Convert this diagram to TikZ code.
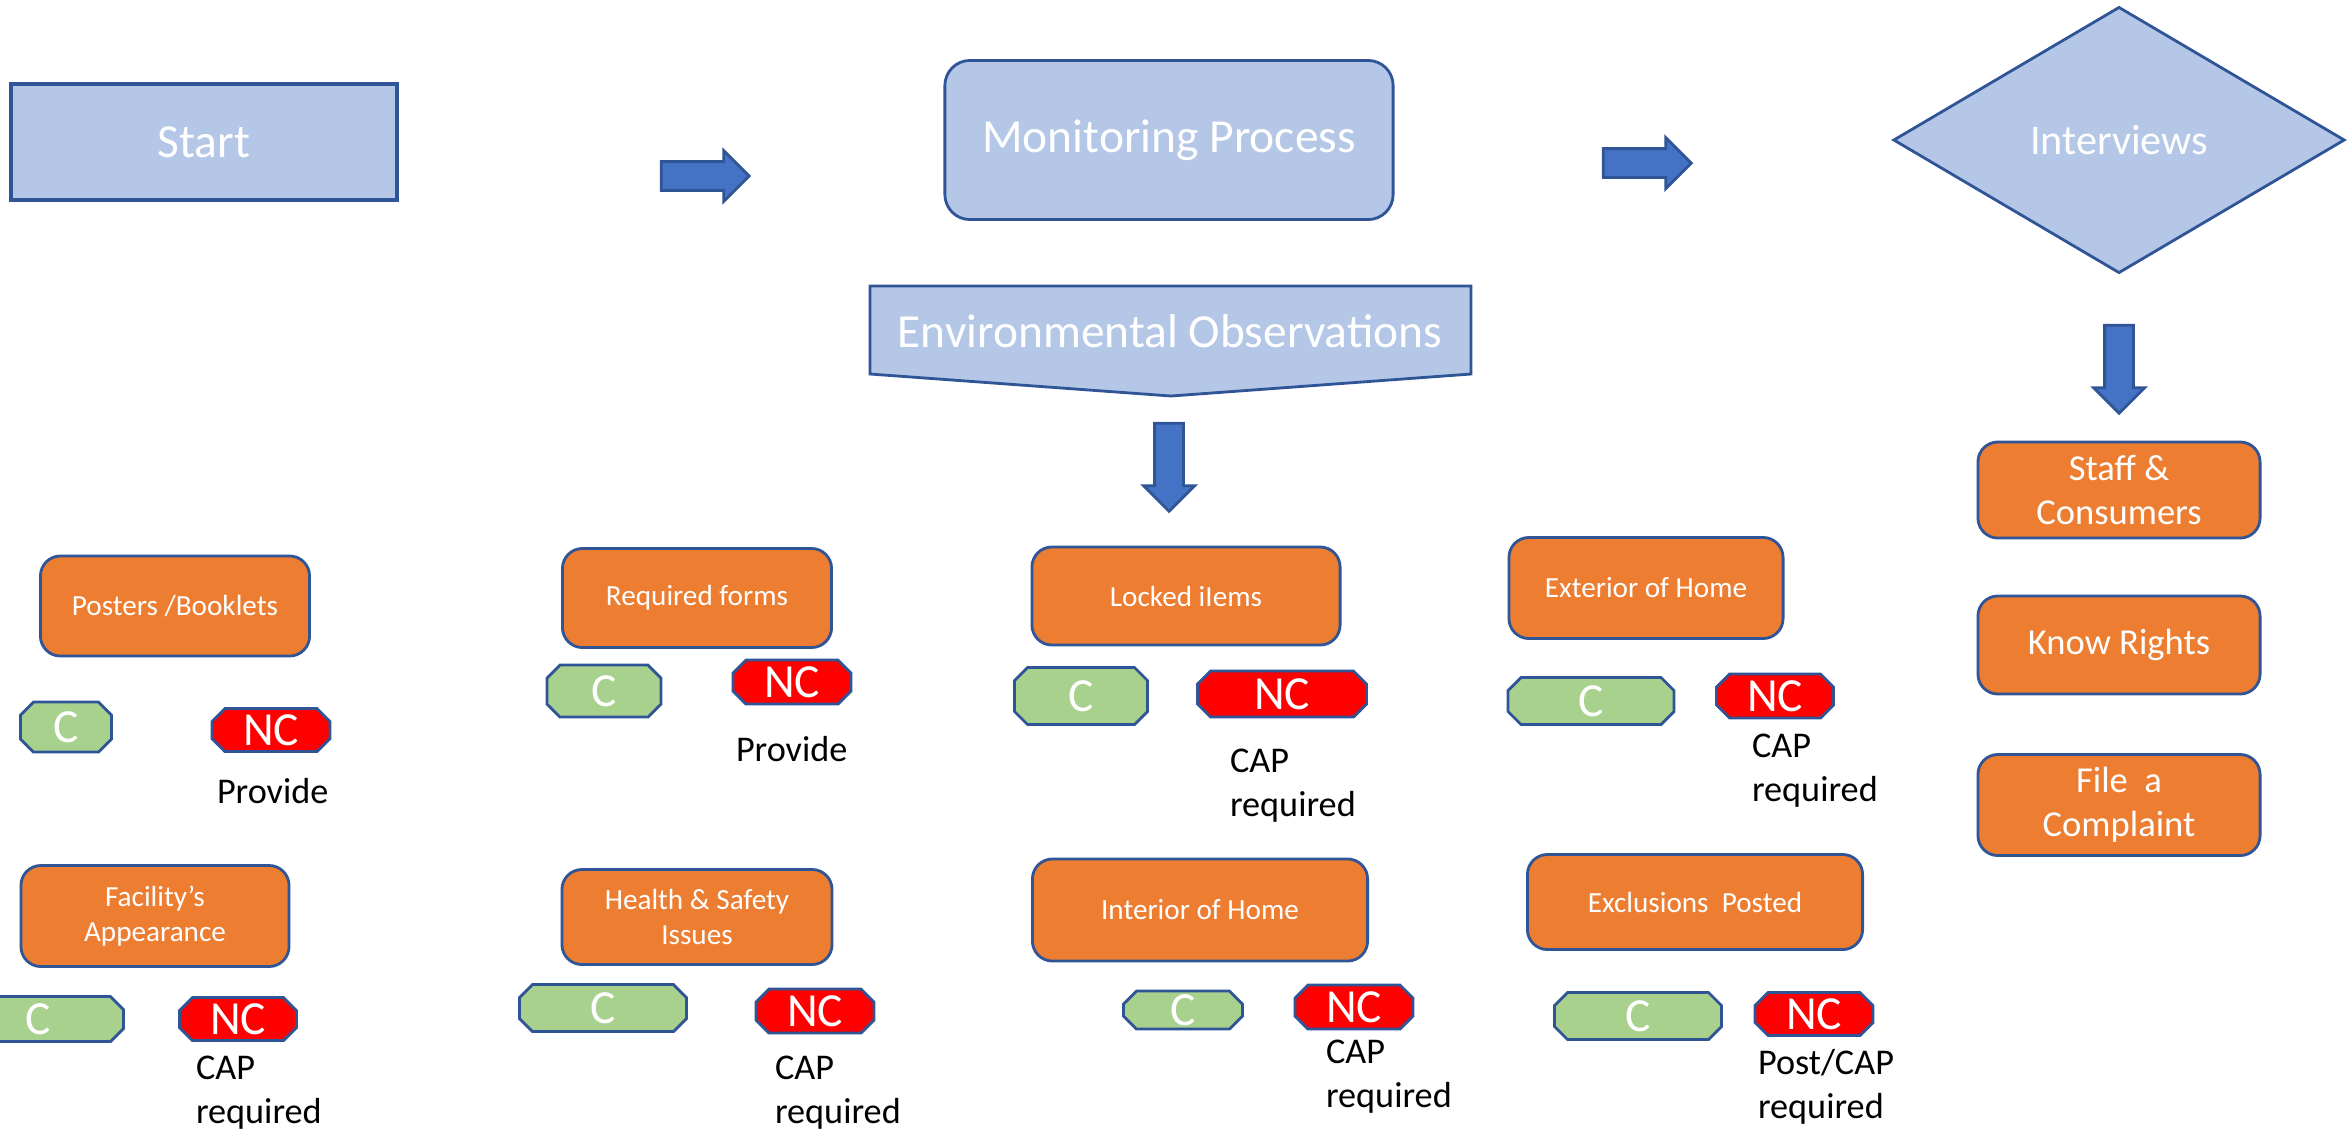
\documentclass[tikz,border=0pt]{standalone}
\usepackage{fontspec}
\setmainfont{Carlito}
\usetikzlibrary{shapes.geometric}
\usetikzlibrary{shapes.arrows}
\definecolor{BoxBlue}{HTML}{B4C7E7}
\definecolor{EdgeBlue}{HTML}{2F5597}
\definecolor{ArrowBlue}{HTML}{4472C4}
\definecolor{BoxOrange}{HTML}{ED7D31}
\definecolor{OkGreen}{HTML}{A9D18E}
\definecolor{NcRed}{HTML}{FF0000}
% name, x, y, width, height, colour, text
\newcommand{\markbox}[7]{%
  \filldraw[fill=#6, draw=EdgeBlue, line width=0.8pt]
    (#2-#4/2+13,#3-#5/2) -- (#2+#4/2-13,#3-#5/2) -- (#2+#4/2,#3-#5/2+13)
    -- (#2+#4/2,#3+#5/2-13) -- (#2+#4/2-13,#3+#5/2) -- (#2-#4/2+13,#3+#5/2)
    -- (#2-#4/2,#3+#5/2-13) -- (#2-#4/2,#3-#5/2+13) -- cycle;
  \node[marktext] (#1) at (#2,#3) {#7};}

\begin{document}
\begin{tikzpicture}[x=0.01cm, y=-0.01cm,
    every node/.style={inner sep=0pt, outer sep=0pt},
    bluebox/.style={draw=EdgeBlue, fill=BoxBlue, line width=0.8pt, text=white, font=\fontsize{13.5}{16}\selectfont},
    itembox/.style={draw=EdgeBlue, fill=BoxOrange, line width=0.8pt, rounded corners=0.2cm, text=white, align=center, font=\fontsize{8.3}{10}\selectfont},
    askbox/.style={itembox, minimum width=2.82cm, font=\fontsize{10.4}{12.5}\selectfont},
    marktext/.style={text=white, font=\fontsize{13.5}{15}\selectfont},
    note/.style={anchor=base west, align=left, font=\fontsize{10.3}{12.3}\selectfont},
    blockarrow/.style={single arrow, draw=EdgeBlue, fill=ArrowBlue, line width=0.8pt, minimum height=0.88cm, minimum width=0.5cm, inner sep=0.13cm, single arrow head extend=0.11cm}]
  \useasboundingbox (0,0) rectangle (2351,1132);
  \clip (0,0) rectangle (2351,1132);

  \node[bluebox, minimum width=3.86cm, minimum height=1.16cm, line width=1pt] (start) at (204,142) {Start};
  \node[blockarrow] (toMonitor) at (698,176) {};
  \node[bluebox, rounded corners=0.25cm, minimum width=4.48cm, minimum height=1.59cm] (monitor) at (1169,140) {Monitoring Process};
  \node[blockarrow] (toInterview) at (1640,163) {};
  \node[bluebox, diamond, minimum width=4.5cm, minimum height=2.65cm, font=\fontsize{12}{14}\selectfont] (interview) at (2119,140) {Interviews};

  \draw[bluebox] (870,286) -- (1471,286) -- (1471,374) -- (1171,396) -- (870,374) -- cycle;
  \node[text=white, font=\fontsize{13.5}{16}\selectfont, anchor=base] (envobs) at (1170,347) {Environmental Observations};
  \node[blockarrow, rotate=-90] (toItems) at (1169,460) {};
  \node[blockarrow, rotate=-90] (toPeople) at (2119,362) {};

  \node[askbox, minimum height=0.96cm] (staff) at (2119,490) {Staff \&\\Consumers};
  \node[askbox, minimum height=0.98cm] (rights) at (2119,645) {Know Rights};
  \node[askbox, minimum height=1.01cm] (complaint) at (2119,805) {File\ \ a\\Complaint};

  \node[itembox, minimum width=2.69cm, minimum height=1cm] (posters) at (175,606) {Posters /Booklets};
  \markbox{postersC}{66}{727}{91}{50}{OkGreen}{C}
  \markbox{postersNC}{271}{730}{118}{43}{NcRed}{NC}
  \node[note] (postersFix) at (217,803) {Provide};

  \node[itembox, minimum width=2.68cm, minimum height=1.01cm] (facility) at (155,916) {Facility’s\\Appearance};
  \markbox{facilityC}{38}{1019}{171}{45}{OkGreen}{C}
  \markbox{facilityNC}{238}{1019}{117}{43}{NcRed}{NC}
  \node[note] (facilityFix) at (196,1123) {CAP\\required};

  \node[itembox, minimum width=2.69cm, minimum height=0.99cm] (forms) at (697,598) {Required forms};
  \markbox{formsC}{604}{691}{114}{52}{OkGreen}{C}
  \markbox{formsNC}{792}{682}{118}{44}{NcRed}{NC}
  \node[note] (formsFix) at (736,761) {Provide};

  \node[itembox, minimum width=2.7cm, minimum height=0.95cm] (health) at (697,917) {Health \& Safety\\Issues};
  \markbox{healthC}{603}{1008}{167}{47}{OkGreen}{C}
  \markbox{healthNC}{815}{1011}{118}{44}{NcRed}{NC}
  \node[note] (healthFix) at (775,1123) {CAP\\required};

  \node[itembox, minimum width=3.08cm, minimum height=0.98cm] (locked) at (1186,596) {Locked iIems};
  \markbox{lockedC}{1081}{696}{133}{57}{OkGreen}{C}
  \markbox{lockedNC}{1282}{694}{169}{46}{NcRed}{NC}
  \node[note] (lockedFix) at (1230,816) {CAP\\required};

  \node[itembox, minimum width=3.35cm, minimum height=1.02cm] (interior) at (1200,910) {Interior of Home};
  \markbox{interiorC}{1183}{1010}{119}{38}{OkGreen}{C}
  \markbox{interiorNC}{1354}{1007}{118}{44}{NcRed}{NC}
  \node[note] (interiorFix) at (1326,1107) {CAP\\required};

  \node[itembox, minimum width=2.74cm, minimum height=1.01cm] (exterior) at (1646,588) {Exterior of Home};
  \markbox{exteriorC}{1591}{701}{166}{47}{OkGreen}{C}
  \markbox{exteriorNC}{1775}{696}{117}{44}{NcRed}{NC}
  \node[note] (exteriorFix) at (1752,801) {CAP\\required};

  \node[itembox, minimum width=3.35cm, minimum height=0.95cm] (exclusions) at (1695,902) {Exclusions\ \ Posted};
  \markbox{exclusionsC}{1638}{1016}{167}{47}{OkGreen}{C}
  \markbox{exclusionsNC}{1814}{1014}{118}{43}{NcRed}{NC}
  \node[note] (exclusionsFix) at (1758,1118) {Post/CAP\\required};
\end{tikzpicture}
\end{document}
